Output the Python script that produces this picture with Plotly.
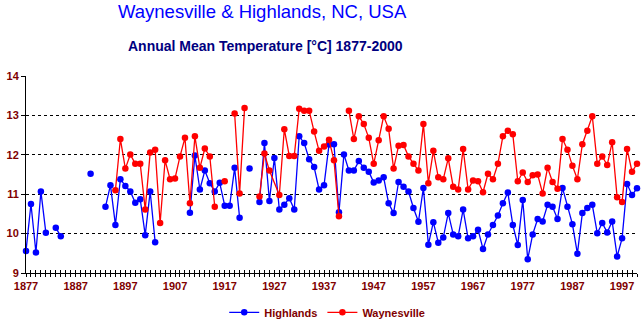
import plotly.graph_objects as go

# ---- data ----
highlands_years = list(range(1877, 2001))
highlands_temp = [
    9.56, 10.75, 9.52, 11.07, 10.02, None, 10.15, 9.93,          # 1877-1884
    None, None, None, None, None, 11.52, None, None,             # 1885-1892
    10.68, 11.23, 10.22, 11.38, 11.21, 11.07, 10.78, 10.87,      # 1893-1900
    9.96, 11.07, 9.78, None, None, None, None, None,             # 1901-1908
    None, 10.53, 11.98, 11.12, 11.60, 11.28, 11.07, 11.29,       # 1909-1916
    10.71, 10.71, 11.67, 10.40, None, 11.65, None, 10.80,        # 1917-1924
    12.30, 10.83, 11.92, 10.61, 10.73, 10.90, 10.61, 12.47,      # 1925-1932
    12.30, 11.89, 11.69, 11.12, 11.23, 12.26, 12.27, 10.54,      # 1933-1940
    12.01, 11.60, 11.60, 11.84, 11.67, 11.57, 11.30, 11.35,      # 1941-1948
    11.43, 10.77, 10.52, 11.31, 11.19, 11.07, 10.65, 10.30,      # 1949-1956
    11.16, 9.72, 10.29, 9.77, 9.90, 10.52, 9.98, 9.93,           # 1957-1964
    10.61, 9.88, 9.93, 10.10, 9.61, 9.98, 10.22, 10.46,          # 1965-1972
    10.77, 11.04, 10.22, 9.71, 10.85, 9.35, 9.98, 10.37,         # 1973-1980
    10.31, 10.73, 10.68, 10.37, 11.16, 10.68, 10.24, 9.49,       # 1981-1988
    10.52, 10.65, 10.73, 10.01, 10.27, 10.03, 10.31, 9.42,       # 1989-1996
    9.88, 11.26, 10.98, 11.15,                                   # 1997-2000
]

waynesville_years = (
    list(range(1895, 1927)) + list(range(1928, 2001))
)
waynesville_temp = [
    11.10, 12.40, 11.65, 12.01, 11.77, 11.77, 10.61, 12.06,      # 1895-1902
    12.13, 10.27, 11.86, 11.38, 11.40, 11.96, 12.43, 10.77,      # 1903-1910
    12.47, 11.67, 12.16, 11.96, 10.68, None, 11.33, None,        # 1911-1918
    13.05, 11.02, 13.19, None, None, 10.94, 12.03, 11.60,        # 1919-1926
    10.98, 12.65, 11.97, 11.97, 13.17, 13.12, 13.12, 12.59,      # 1928-1935
    12.10, 12.21, 12.38, 11.86, 10.44, None, 13.12, 12.40,       # 1936-1943
    12.98, 12.78, 12.43, 11.77, 12.37, 12.98, 12.66, 11.65,      # 1944-1951
    12.23, 12.25, 11.96, 11.77, 11.60, 12.78, 11.28, 12.10,      # 1952-1959
    11.43, 11.38, 11.91, 11.19, 11.12, 12.15, 11.12, 11.35,      # 1960-1967
    11.33, 11.05, 11.52, 11.38, 11.77, 12.47, 12.61, 12.52,      # 1968-1975
    11.33, 11.55, 11.31, 11.48, 11.50, 11.02, 11.67, 11.31,      # 1976-1983
    11.14, 12.40, 12.13, 11.72, 11.38, 12.27, 12.61, 12.98,      # 1984-1991
    11.77, 11.96, 11.74, 12.32, 10.92, 10.80, 12.15, 11.57,      # 1992-1999
    11.77,                                                       # 2000
]

tick_years = list(range(1877, 2001))
label_years = list(range(1877, 2001, 10))
tick_text = [str(y) if y in label_years else "" for y in tick_years]

DARKRED = "#800000"
FONT = "Liberation Sans"

fig = go.Figure()
fig.add_trace(go.Scatter(
    x=highlands_years, y=highlands_temp, name="Highlands",
    mode="lines+markers", connectgaps=False, cliponaxis=False,
    line=dict(color="#0000FF", width=1.3),
    marker=dict(color="#0000FF", size=6.5),
))
fig.add_trace(go.Scatter(
    x=waynesville_years, y=waynesville_temp, name="Waynesville",
    mode="lines+markers", connectgaps=False, cliponaxis=False,
    line=dict(color="#FF0000", width=1.3),
    marker=dict(color="#FF0000", size=6.5),
))

fig.update_layout(
    width=644, height=334,
    margin=dict(l=18, r=7, t=76, b=51),
    paper_bgcolor="white", plot_bgcolor="white",
    font=dict(family=FONT, color=DARKRED, size=11),
    title=dict(
        text="Waynesville & Highlands, NC, USA",
        x=118 / 644, xanchor="left", xref="container",
        y=1 - 12 / 334, yanchor="middle", yref="container",
        font=dict(family=FONT, size=18.5, color="#0000FF"),
    ),
    annotations=[dict(
        text="Annual Mean Temperature [°C] 1877-2000",
        xref="paper", yref="paper",
        x=(119 - 18) / 619, xanchor="left",
        y=1 + (76 - 44) / 206.7, yanchor="middle",
        showarrow=False,
        font=dict(family=FONT, size=14, color="#000080", weight="bold"),
    )],
    xaxis=dict(
        range=[1877, 2000],
        showline=True, linecolor="black", linewidth=1,
        showgrid=False, zeroline=False,
        tickmode="array", tickvals=tick_years, ticktext=tick_text,
        ticks="outside", ticklen=3, tickcolor="black", tickwidth=1,
        tickfont=dict(family=FONT, size=11, color=DARKRED, weight="bold"),
    ),
    xaxis2=dict(
        range=[1877, 2000], overlaying="x", anchor="y", side="bottom",
        showline=False, showgrid=False, zeroline=False,
        tickmode="array", tickvals=tick_years, showticklabels=False,
        ticks="inside", ticklen=3, tickcolor="black", tickwidth=1,
    ),
    yaxis=dict(
        range=[9, 14], dtick=1, tick0=9,
        showline=True, linecolor="black", linewidth=1,
        showgrid=True, gridcolor="black", griddash="dot", gridwidth=1,
        zeroline=False,
        ticks="outside", ticklen=4, tickcolor="black",
        tickfont=dict(family=FONT, size=11, color=DARKRED, weight="bold"),
    ),
    legend=dict(
        orientation="h", x=0.493, xanchor="center",
        y=(282.7 - 324) / 206.7, yanchor="middle",
        font=dict(family=FONT, size=11, color=DARKRED, weight="bold"),
        itemwidth=30, bgcolor="rgba(0,0,0,0)",
    ),
    showlegend=True,
)

# invisible helper trace to keep the inner-tick axis drawn
fig.add_trace(go.Scatter(x=[1877], y=[None], xaxis="x2", showlegend=False,
                         hoverinfo="skip", mode="markers"))

fig.write_html("out.html")
